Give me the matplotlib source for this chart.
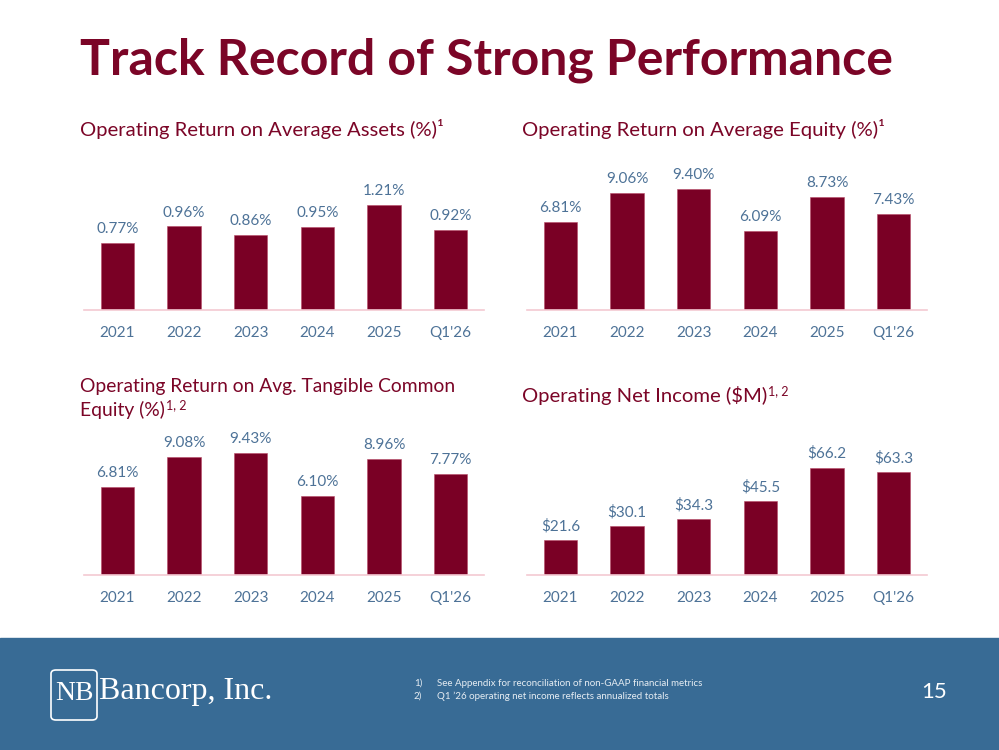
import matplotlib.pyplot as plt
from matplotlib.patches import Rectangle, FancyBboxPatch

# Chart data.
periods = ["2021", "2022", "2023", "2024", "2025", "Q1'26"]
roaa = [0.77, 0.96, 0.86, 0.95, 1.21, 0.92]
roae = [6.81, 9.06, 9.40, 6.09, 8.73, 7.43]
rotce = [6.81, 9.08, 9.43, 6.10, 8.96, 7.77]
net_income = [21.6, 30.1, 34.3, 45.5, 66.2, 63.3]

W, H = 999, 750
MAROON = "#7b0527"
BAR = "#7a0025"
BLUE_TXT = "#4d7297"
AXIS_LINE = "#f4c9d2"
FOOTER = "#386b95"
BODY_FONT = "Lato"


def rect(x0, y0, x1, y1):
    """ Pixel box (top-left origin) to figure fraction. """
    return [x0 / W, 1 - y1 / H, (x1 - x0) / W, (y1 - y0) / H]


def bar_panel(box, values, ymax, fmt):
    ax = fig.add_axes(rect(*box))
    xs = range(len(values))
    ax.bar(xs, values, width=0.5, color=BAR, edgecolor="#b84a66", linewidth=0.4)
    ax.set_xlim(-0.5, len(values) - 0.5)
    ax.set_ylim(0, ymax)
    for s in ["top", "right", "left"]:
        ax.spines[s].set_visible(False)
    ax.spines["bottom"].set_color(AXIS_LINE)
    ax.spines["bottom"].set_linewidth(1.2)
    ax.set_yticks([])
    ax.set_xticks(list(xs))
    ax.set_xticklabels(periods, fontsize=11, color=BLUE_TXT, family=BODY_FONT,
                       va="baseline")
    ax.tick_params(axis="x", length=0, pad=19.5)
    for x, v in zip(xs, values):
        ax.annotate(fmt(v), (x, v), xytext=(0, 5), textcoords="offset points",
                    ha="center", va="bottom", fontsize=11, color=BLUE_TXT,
                    family=BODY_FONT)
    return ax


def sub_title(x, y_base, text, sup=None, size=14.6):
    """ Panel title with its baseline at y_base (pixels), optional superscript. """
    t = fig.text(x / W, 1 - y_base / H, text, fontsize=size, color=MAROON,
                 family=BODY_FONT, va="baseline")
    if sup:
        bb = t.get_window_extent(fig.canvas.get_renderer())
        fig.text((bb.x1 + 1) / W, 1 - (y_base - 7) / H, sup, fontsize=9,
                 color=MAROON, family=BODY_FONT, va="baseline")


fig = plt.figure(figsize=(W / 100, H / 100), dpi=100)

# Title.
fig.text(80 / W, 1 - 60 / H, "Track Record of Strong Performance", fontsize=36,
         color=MAROON, family="Lato", weight="bold", va="center", ha="left")

# Panel titles.
sub_title(80, 136, "Operating Return on Average Assets (%)\u00b9")
sub_title(522, 136, "Operating Return on Average Equity (%)\u00b9")
sub_title(80, 392, "Operating Return on Avg. Tangible Common", size=13.9)
sub_title(80, 416, "Equity (%)", "1, 2", size=13.9)
sub_title(522, 402, "Operating Net Income ($M)", "1, 2")

# Bar panels.
bar_panel((84, 150, 484, 310), roaa, 160 / 87, lambda v: f"{v:.2f}%")
bar_panel((527, 150, 927, 310), roae, 160 / 12.9, lambda v: f"{v:.2f}%")
bar_panel((84, 415, 484, 575), rotce, 160 / 12.95, lambda v: f"{v:.2f}%")
bar_panel((527, 415, 927, 575), net_income, 160 / 1.62, lambda v: f"${v:.1f}")

# Footer band.
fig.patches.append(Rectangle((0, 0), 1, 112 / H, transform=fig.transFigure,
                             color=FOOTER, zorder=0))

# Logo.
fig.patches.append(FancyBboxPatch((51 / W, 1 - 720 / H), 46 / W, 50 / H,
                                  boxstyle="round,pad=0,rounding_size=0.005",
                                  transform=fig.transFigure, fill=False,
                                  edgecolor="white", linewidth=1.2, zorder=2))
fig.text(55 / W, 1 - 694 / H, "NB", fontsize=20, color="white",
         family="Liberation Serif", va="center", ha="left")
fig.text(99 / W, 1 - 692 / H, "Bancorp, Inc.", fontsize=23, color="white",
         family="Liberation Serif", va="center", ha="left")

# Footnotes.
notes = ["See Appendix for reconciliation of non-GAAP financial metrics",
         "Q1 \u201926 operating net income reflects annualized totals"]
for i, n in enumerate(notes):
    y = 1 - (683 + 13 * i) / H
    fig.text(414 / W, y, f"{i + 1})", fontsize=7, color="#e6edf3",
             family=BODY_FONT, va="center")
    fig.text(437 / W, y, n, fontsize=7, color="#e6edf3",
             family=BODY_FONT, va="center")

fig.text(947 / W, 1 - 692 / H, "15", fontsize=16, color="white",
         family="Lato", va="center", ha="right")

fig.savefig("out.png", dpi=100)
